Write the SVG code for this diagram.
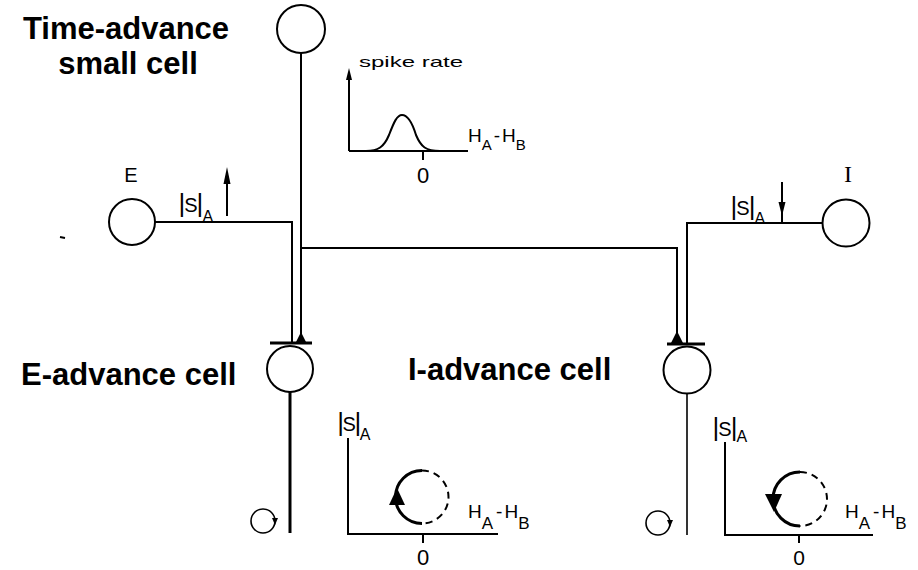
<svg xmlns="http://www.w3.org/2000/svg" width="918" height="570" viewBox="0 0 918 570">
<style>
.ln{fill:none;stroke:#000;stroke-width:2}
.thk{fill:none;stroke:#000;stroke-width:3}
.thin{fill:none;stroke:#000;stroke-width:1.6}
.cell{fill:#fff;stroke:#000;stroke-width:2}
.dash{fill:none;stroke:#000;stroke-width:2;stroke-dasharray:7 5}
.ah{fill:#000;stroke:none}
.big{font-family:"Liberation Sans",Arial,sans-serif;font-weight:bold;font-size:31px;fill:#000}
.sm{font-family:"Liberation Sans",Arial,sans-serif;fill:#000}
.bar{font-size:26px}
.s{font-size:20px}
.sub{font-size:16px}
</style>
<rect width="918" height="570" fill="#fff"/>

<g id="labels">
<text class="big" x="126" y="39" text-anchor="middle">Time-advance</text>
<text class="big" x="128" y="74" text-anchor="middle">small cell</text>
<text class="big" x="21" y="385">E-advance cell</text>
<text class="big" x="408" y="380">I-advance cell</text>
</g>

<g id="connectors">
<line class="ln" x1="301" y1="53" x2="301" y2="334"/>
<polyline class="ln" points="301,248 677,248 677,334"/>
<polyline class="ln" points="155,222 292,222 292,343"/>
<polyline class="ln" points="823,223 687,223 687,344"/>
<line class="thk" x1="270" y1="343" x2="312" y2="343"/>
<polygon class="ah" points="301,332 295,344 307,344"/>
<line class="thk" x1="667" y1="344" x2="705" y2="344"/>
<polygon class="ah" points="677,331 670,345 684,345"/>
<line class="thk" x1="290" y1="392" x2="290" y2="533"/>
<line class="thin" x1="687" y1="393" x2="687" y2="535"/>
<line class="ln" x1="227" y1="216" x2="227" y2="178"/>
<polygon class="ah" points="227,167 223.5,184 230.5,184"/>
<line class="ln" x1="782" y1="182" x2="782" y2="222"/>
<polygon class="ah" points="782,216 778.5,202 785.5,202"/>
<line class="ln" x1="60" y1="237" x2="65" y2="238"/>
</g>

<g id="time-advance-cell"><circle class="cell" cx="301" cy="29" r="24"/></g>
<g id="e-cell">
<circle class="cell" cx="132" cy="222" r="23"/>
<text class="sm" x="131" y="182" font-size="20" text-anchor="middle">E</text>
<text class="sm" x="178.5" y="211.5" letter-spacing="-1"><tspan class="bar">|</tspan><tspan class="s">S</tspan><tspan class="bar">|</tspan><tspan class="sub" dy="10.5">A</tspan></text>
</g>
<g id="i-cell">
<circle class="cell" cx="846" cy="223" r="23.5"/>
<text x="848" y="182" font-family="Liberation Serif,serif" font-size="24" text-anchor="middle">I</text>
<text class="sm" x="730.6" y="215" letter-spacing="-1"><tspan class="bar">|</tspan><tspan class="s">S</tspan><tspan class="bar">|</tspan><tspan class="sub" dy="9">A</tspan></text>
</g>
<g id="e-advance-cell"><circle class="cell" cx="290" cy="369" r="23"/></g>
<g id="i-advance-cell"><circle class="cell" cx="687" cy="370" r="23.5"/></g>

<g id="spike-graph">
<line class="ln" x1="349" y1="151" x2="349" y2="78"/>
<polygon class="ah" points="349,68 346,80 352,80"/>
<line class="ln" x1="349" y1="151" x2="468" y2="151"/>
<line class="ln" x1="423" y1="151" x2="423" y2="160"/>
<path class="ln" d="M366,151 C378,151 384,147 389,135 C394,122 397,115 402,115 C408,115 412,122 416,135 C421,147 426,151 440,151"/>
<text class="sm" x="359" y="67" font-size="15" textLength="104" lengthAdjust="spacingAndGlyphs">spike rate</text>
<text class="sm" x="423" y="183" font-size="22" text-anchor="middle">0</text>
<text class="sm" x="468" y="142" font-size="19">H<tspan font-size="15" dy="8">A</tspan><tspan dy="-8" dx="2">-</tspan><tspan dx="2">H</tspan><tspan font-size="15" dy="8">B</tspan></text>
</g>

<g id="e-graph">
<circle class="thin" cx="263" cy="521" r="12"/>
<polygon class="ah" points="272,518 278,518 275,525"/>
<polyline class="ln" points="348,438 348,534 498,534"/>
<line class="ln" x1="423" y1="534" x2="423" y2="543"/>
<text class="sm" x="337.3" y="431" letter-spacing="-1.5"><tspan class="bar">|</tspan><tspan class="s">S</tspan><tspan class="bar">|</tspan><tspan class="sub" dy="9">A</tspan></text>
<text class="sm" x="423" y="565" font-size="22" text-anchor="middle">0</text>
<text class="sm" x="468" y="518" font-size="19">H<tspan font-size="17" dy="11">A</tspan><tspan dy="-11" dx="3">-</tspan><tspan dx="2">H</tspan><tspan font-size="17" dy="11">B</tspan></text>
<path class="dash" d="M422,470.5 A26.5,26.5 0 0 1 422,523.5"/>
<path class="thk" stroke-width="3.5" d="M422,470.5 A26.5,26.5 0 0 0 422,523.5"/>
<polygon class="ah" points="397,488 389,505 405,505"/>
</g>

<g id="i-graph">
<circle class="thin" cx="658" cy="523" r="12"/>
<polygon class="ah" points="667,520 673,520 670,527"/>
<polyline class="ln" points="725,442 725,535 873,535"/>
<line class="ln" x1="799" y1="535" x2="799" y2="543"/>
<text class="sm" x="712.6" y="436" letter-spacing="-1"><tspan class="bar">|</tspan><tspan class="s">S</tspan><tspan class="bar">|</tspan><tspan class="sub" dy="6">A</tspan></text>
<text class="sm" x="799" y="565" font-size="21" text-anchor="middle">0</text>
<text class="sm" x="845" y="518" font-size="19">H<tspan font-size="17" dy="11">A</tspan><tspan dy="-11" dx="3">-</tspan><tspan dx="2">H</tspan><tspan font-size="17" dy="11">B</tspan></text>
<path class="dash" d="M800,472 A27,27 0 0 1 800,526"/>
<path class="thk" stroke-width="3.5" d="M800,472 A27,27 0 0 0 800,526"/>
<polygon class="ah" points="765,494 782,494 774,512"/>
</g>
</svg>
